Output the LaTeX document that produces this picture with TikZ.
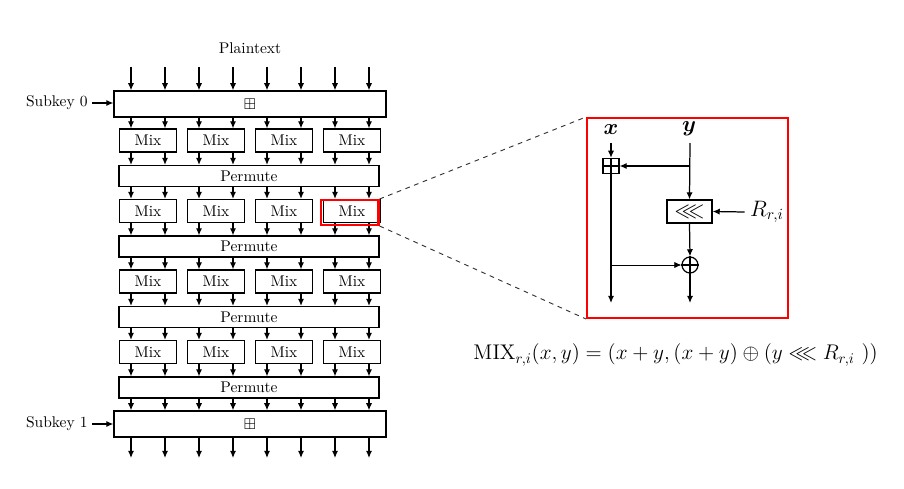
\documentclass[tikz,border=0pt]{standalone}
\usepackage{amsmath,amssymb,graphicx}
\usetikzlibrary{arrows.meta}
\begin{document}
\begin{tikzpicture}[x=0.645pt,y=-0.645pt,
  arr/.style={-{Latex[length=4.6pt,width=4pt]}, line width=0.8pt},
  blk/.style={draw, line width=0.8pt, inner sep=0pt, anchor=center, fill=white},
  mixbox/.style={blk, minimum width=36.8pt, minimum height=14.8pt},
  permbox/.style={blk, minimum width=167.7pt, minimum height=13.5pt},
  keybox/.style={blk, minimum width=175.4pt, minimum height=16.8pt},
  redbox/.style={draw=red, line width=1.3pt, inner sep=0pt},
  zoomline/.style={dashed, line width=0.6pt, black!80}]
\useasboundingbox (0,0) rectangle (904,489);
% left: cipher
\node (pt) at (250,48) {Plaintext};
\node[keybox] (k0) at (250,104) {$\boxplus$};
\node[keybox] (k1) at (250,424) {$\boxplus$};
\foreach \r/\yy in {1/140.5,2/211,3/281.5,4/352} {
  \foreach \cc/\xx in {1/148,2/216,3/284,4/352} {
    \node[mixbox] (m\r\cc) at (\xx,\yy) {Mix};
  }
}
\foreach \r/\yy in {1/176,2/246.5,3/317,4/387.5} {
  \node[permbox] (p\r) at (249,\yy) {Permute};
}
\node[anchor=east, inner sep=0pt] (s0) at (88,103) {Subkey 0};
\node[anchor=east, inner sep=0pt] (s1) at (88,424) {Subkey 1};
\draw[arr] (s0.east) ++(4,0) -- (k0.west |- s0.east);
\draw[arr] (s1.east) ++(4,0) -- (k1.west |- s1.east);
\foreach \i/\xx in {1/131,2/165,3/199,4/233,5/267,6/301,7/335,8/369} {
  \coordinate (t\i) at (\xx,67);
  \coordinate (b\i) at (\xx,458);
}
\foreach \i in {1,...,8} {
  \pgfmathtruncatemacro\cc{(\i+1)/2}
  \draw[arr] (t\i) -- (k0.north -| t\i);
  \draw[arr] (k0.south -| t\i) -- (m1\cc.north -| t\i);
  \draw[arr] (m1\cc.south -| t\i) -- (p1.north -| t\i);
  \draw[arr] (p1.south -| t\i) -- (m2\cc.north -| t\i);
  \draw[arr] (m2\cc.south -| t\i) -- (p2.north -| t\i);
  \draw[arr] (p2.south -| t\i) -- (m3\cc.north -| t\i);
  \draw[arr] (m3\cc.south -| t\i) -- (p3.north -| t\i);
  \draw[arr] (p3.south -| t\i) -- (m4\cc.north -| t\i);
  \draw[arr] (m4\cc.south -| t\i) -- (p4.north -| t\i);
  \draw[arr] (p4.south -| t\i) -- (k1.north -| t\i);
  \draw[arr] (k1.south -| t\i) -- (b\i);
}
% zoom
\node[redbox, minimum width=37.4pt, minimum height=16.1pt] (sel) at (349.5,212.5) {};
\node[redbox, minimum width=129.6pt, minimum height=129pt] (big) at (687.5,218) {};
\draw[zoomline] (sel.north east) -- (big.north west);
\draw[zoomline] (sel.south east) -- (big.south west);
% mix detail
\node (xl) at (611,130) {\Large$\boldsymbol{x}$};
\node (yl) at (689,129) {\Large$\boldsymbol{y}$};
\coordinate (xs) at (611,143);
\coordinate (ys) at (690,143);
\coordinate (xe) at (611,303);
\coordinate (ye) at (690,303);
\coordinate (yb) at (690,166);
\coordinate (xb) at (611,265);
\node[draw, line width=0.8pt, minimum width=10.3pt, minimum height=9.7pt, inner sep=0pt] (bp) at (611,166) {};
\draw[line width=0.8pt] (bp.north) -- (bp.south) (bp.west) -- (bp.east);
\node[blk, minimum width=29pt, minimum height=14.8pt] (rot) at (689.5,211.5) {\Large$\lll$};
\node (rl) at (767,212) {\Large$R_{r,i}$};
\node[circle, draw, line width=0.8pt, minimum size=10.3pt, inner sep=0pt] (op) at (690,265) {};
\draw[line width=0.8pt] (op.north) -- (op.south) (op.west) -- (op.east);
\draw[arr] (xs) -- (bp.north);
\draw[arr] (bp.south) -- (xe);
\draw[arr] (ys) -- (rot.north);
\draw[arr] (yb) -- (bp.east);
\draw[arr] (rl.west) -- (rot.east);
\draw[arr] (rot.south) -- (op.north);
\draw[arr, line width=0.5pt] (xb) -- (op.west);
\draw[arr] (op.south) -- (ye);
% formula
\node[anchor=west] (f) at (468,355) {\scalebox{0.95}{\Large$\mathrm{MIX}_{r,i}(x,y)=(x+y,(x+y)\oplus(y\lll R_{r,i}\ ))$}};
\end{tikzpicture}
\end{document}
